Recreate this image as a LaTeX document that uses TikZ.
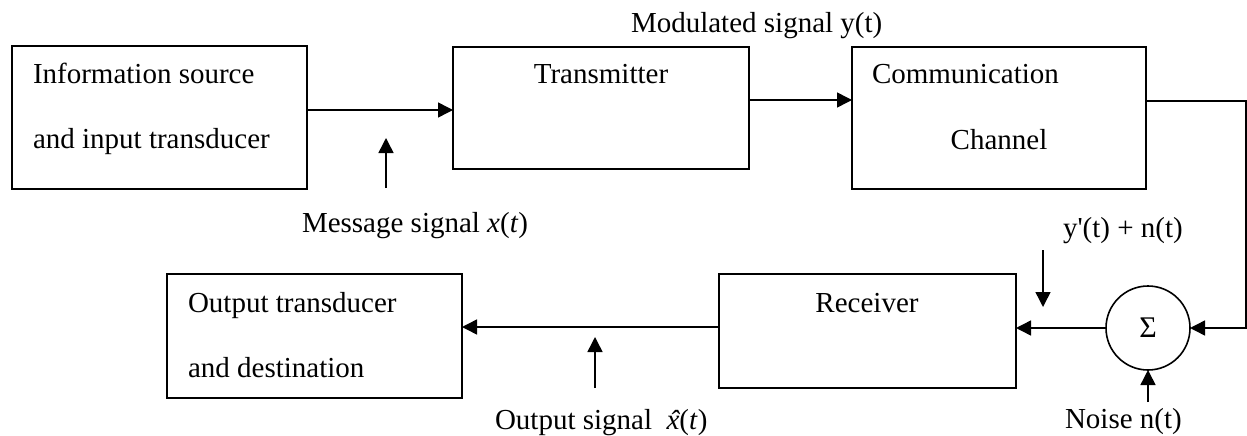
\documentclass[tikz,border=0pt]{standalone}
\usepackage{fontspec}
\setmainfont{Liberation Serif}
\newfontfamily\rawserif{Liberation Serif}[Ligatures=TeXOff]
\usetikzlibrary{arrows.meta}
\newcommand\myxhat{\textit{\ooalign{x\cr\hidewidth\kern0.08em\raisebox{-0.06em}{\char"02C6}\hidewidth\cr}}}
\begin{document}
\begin{tikzpicture}[x=1pt,y=-1pt,
  txt/.style={font=\fontsize{29}{34}\selectfont, inner sep=0pt, outer sep=0pt},
  blk/.style={draw, line width=1.8pt, inner sep=0pt, outer sep=0pt, rectangle},
  arr/.style={line width=1.5pt, -{Triangle[length=15pt,width=15pt]}},
  ln/.style={line width=1.5pt}]
\useasboundingbox (0,0) rectangle (1247,436);
% blocks
\node[blk, minimum width=295pt, minimum height=143pt] (src) at (159.5,117.5) {};
\node[blk, minimum width=296pt, minimum height=122pt] (tx) at (601,108) {};
\node[blk, minimum width=294pt, minimum height=142pt] (ch) at (999,118) {};
\node[blk, minimum width=297pt, minimum height=114pt] (rx) at (867.5,331) {};
\node[blk, minimum width=295pt, minimum height=124pt] (out) at (314.5,336) {};
\node[draw, circle, line width=1.6pt, minimum size=84pt, inner sep=0pt, outer sep=0pt] (sum) at (1148,328) {\fontsize{30}{34}\selectfont Σ};
% block texts
\node[txt, anchor=base west] (srcA) at (33,84) {Information source};
\node[txt, anchor=base west] (srcB) at (33,148) {and input transducer};
\node[txt, anchor=base] (txT) at (601,84) {Transmitter};
\node[txt, anchor=base west] (chA) at (872,84) {Communication};
\node[txt, anchor=base] (chB) at (999,149) {Channel};
\node[txt, anchor=base] (rxT) at (867,312) {Receiver};
\node[txt, anchor=base west] (outA) at (188,312) {Output transducer};
\node[txt, anchor=base west] (outB) at (188,377) {and destination};
% labels
\node[txt, anchor=base west] (lmod) at (631,33) {Modulated signal y(t)};
\node[txt, anchor=base west] (lmsg) at (302,232) {Message signal \textit{x}(\textit{t})};
\node[txt, anchor=base west] (lout) at (495,429) {Output signal\ \ \myxhat(\textit{t})};
\node[txt, anchor=base west] (lyn) at (1063,237) {{\rawserif y'(t) + n(t)}};
\node[txt, anchor=base west] (lnoise) at (1065,428) {Noise n(t)};
% coordinates
\coordinate (c1) at (1246,101);
\coordinate (c2) at (1246,328);
\coordinate (m0) at (386,188);
\coordinate (m1) at (386,138);
\coordinate (o0) at (595,388);
\coordinate (o1) at (595,337);
\coordinate (y0) at (1043,250);
\coordinate (y1) at (1043,307);
\coordinate (n0) at (1148,402);
% connectors
\draw[arr] (src.east |- 0,110) -- (tx.west |- 0,110);
\draw[arr] (tx.east |- 0,100) -- (ch.west |- 0,100);
\draw[arr] (ch.east |- c1) -- (c1) -- (c2) -- (sum.east);
\draw[arr] (sum.west) -- (rx.east |- sum.west);
\draw[arr] (rx.west |- 0,327) -- (out.east |- 0,327);
\draw[arr] (m0) -- (m1);
\draw[arr] (o0) -- (o1);
\draw[arr] (y0) -- (y1);
\draw[arr] (n0) -- (sum.south);
\end{tikzpicture}
\end{document}
